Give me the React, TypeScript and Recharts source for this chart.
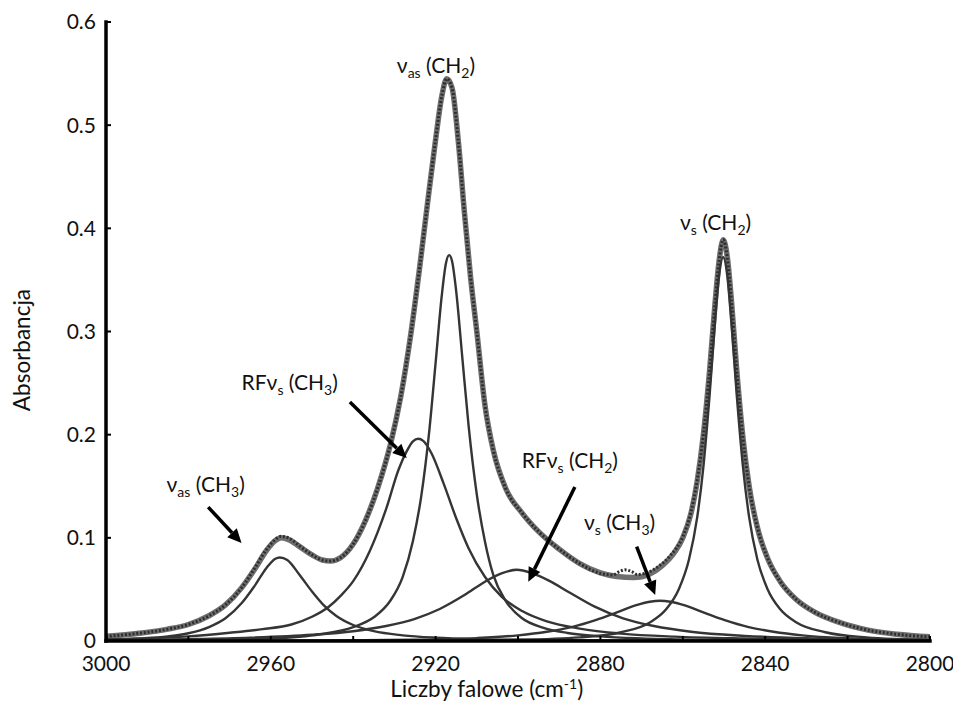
import React from 'react';
import { LineChart, Line, XAxis, YAxis, ReferenceLine, ReferenceDot } from 'recharts';

type P = [number, number];

const FONT = 'Lato, "Open Sans", sans-serif';

// axis ticks
const xTicks = [3000, 2980, 2960, 2940, 2920, 2900, 2880, 2860, 2840, 2820, 2800];
const xLabelTicks = [3000, 2960, 2920, 2880, 2840, 2800];
const yTicks = [0, 0.1, 0.2, 0.3, 0.4, 0.5, 0.6];
const yTickLabels = ['0', '0.1', '0.2', '0.3', '0.4', '0.5', '0.6'];

// fitted total spectrum (thick grey)
const fitTotal: P[] = [
  [3000, 0.0045], [2992, 0.0075], [2985, 0.0115], [2980, 0.016], [2975, 0.0245], [2971, 0.035],
  [2967, 0.052], [2964, 0.069], [2961, 0.088], [2959, 0.097], [2957.5, 0.1], [2955.5, 0.098],
  [2953, 0.0915], [2950, 0.0835], [2947.5, 0.0785], [2945.5, 0.0775], [2943, 0.081], [2940, 0.094],
  [2937, 0.117], [2934, 0.149], [2931, 0.19], [2928.5, 0.236], [2926, 0.298], [2924, 0.358],
  [2922, 0.423], [2920, 0.486], [2918.5, 0.528], [2917.3, 0.545], [2916, 0.536], [2914.5, 0.485],
  [2913, 0.415], [2911.5, 0.352], [2910, 0.3], [2908, 0.228], [2906, 0.185], [2903, 0.148],
  [2899, 0.124], [2895, 0.106], [2890, 0.089], [2885, 0.075], [2880, 0.066], [2876, 0.0625],
  [2872, 0.0615], [2868, 0.065], [2865, 0.073], [2862, 0.086], [2860, 0.1], [2858, 0.124],
  [2856.5, 0.155], [2855, 0.2], [2853.5, 0.262], [2852.2, 0.326], [2851.2, 0.368], [2850.2, 0.389],
  [2849.2, 0.372], [2848.2, 0.33], [2846.9, 0.262], [2845.4, 0.197], [2843.9, 0.15], [2841.9, 0.11],
  [2839.4, 0.08], [2836.4, 0.058], [2832.4, 0.04], [2828, 0.028], [2822, 0.018], [2815, 0.0105],
  [2808, 0.0065], [2800, 0.004],
];

// measured spectrum (dotted)
const measured: P[] = [
  [3000, 0.0045], [2992, 0.0075], [2985, 0.0115], [2980, 0.016], [2975, 0.0245], [2971, 0.035],
  [2967, 0.052], [2964, 0.07], [2961, 0.089], [2959, 0.098], [2957.5, 0.1015], [2955.5, 0.0995],
  [2953, 0.092], [2950, 0.0835], [2947.5, 0.0785], [2945.5, 0.0775], [2943, 0.081], [2940, 0.094],
  [2937, 0.117], [2934, 0.149], [2931, 0.19], [2928.5, 0.236], [2926, 0.298], [2924, 0.358],
  [2922, 0.423], [2920, 0.486], [2918.5, 0.528], [2917.3, 0.545], [2916, 0.536], [2914.5, 0.485],
  [2913, 0.415], [2911.5, 0.352], [2910, 0.3], [2908, 0.228], [2906, 0.185], [2903, 0.148],
  [2899, 0.124], [2895, 0.106], [2890, 0.089], [2885, 0.075], [2880, 0.0655], [2877, 0.064],
  [2875.5, 0.067], [2874, 0.069], [2872.5, 0.0675], [2871, 0.0645], [2868.5, 0.0665], [2866, 0.072],
  [2863, 0.083], [2860, 0.101], [2858, 0.125], [2856.5, 0.156], [2855, 0.2], [2853.5, 0.262],
  [2852.2, 0.326], [2851.2, 0.368], [2850.2, 0.389], [2849.2, 0.372], [2848.2, 0.33], [2846.9, 0.262],
  [2845.4, 0.197], [2843.9, 0.15], [2841.9, 0.11], [2839.4, 0.08], [2836.4, 0.058], [2832.4, 0.04],
  [2828, 0.028], [2822, 0.018], [2815, 0.0105], [2808, 0.0065], [2800, 0.004],
];

// component bands
const vasCH3: P[] = [
  [3000, 0.0012], [2992, 0.0025], [2985, 0.0045], [2980, 0.0075], [2975, 0.0135], [2971, 0.022],
  [2967, 0.037], [2964, 0.053], [2961, 0.071], [2959, 0.0795], [2957.8, 0.081], [2956, 0.0785],
  [2953, 0.064], [2950, 0.048], [2947, 0.034], [2944, 0.024], [2940, 0.0155], [2935, 0.0095],
  [2928, 0.0055], [2920, 0.0032], [2910, 0.0018], [2890, 0.0008], [2860, 0.0003], [2800, 0.0001],
];

const rfCH3: P[] = [
  [3000, 0.0015], [2990, 0.0025], [2980, 0.0045], [2970, 0.008], [2962, 0.0115], [2955, 0.016],
  [2950, 0.0235], [2946, 0.033], [2943, 0.044], [2940, 0.058], [2936, 0.087], [2932, 0.128],
  [2929, 0.166], [2927, 0.184], [2925.5, 0.1935], [2924.2, 0.196], [2923, 0.194], [2921, 0.182],
  [2918, 0.152], [2915, 0.119], [2912, 0.09], [2908, 0.062], [2904, 0.043], [2899, 0.029],
  [2893, 0.019], [2885, 0.012], [2875, 0.0072], [2862, 0.0042], [2845, 0.0024], [2825, 0.0013],
  [2800, 0.0007],
];

const vasCH2: P[] = [
  [3000, 0.0004], [2980, 0.0009], [2960, 0.0025], [2948, 0.0065], [2940, 0.0135], [2935, 0.023],
  [2931, 0.039], [2928, 0.062], [2925.5, 0.097], [2923.5, 0.14], [2921.5, 0.205], [2920, 0.2695],
  [2918.5, 0.335], [2917.5, 0.366], [2916.7, 0.374], [2916, 0.368], [2915, 0.339], [2913.5, 0.274],
  [2912, 0.209], [2910, 0.142], [2908, 0.096], [2906, 0.064], [2903, 0.039], [2899, 0.022],
  [2894, 0.013], [2888, 0.0078], [2880, 0.0045], [2870, 0.0025], [2855, 0.0012], [2835, 0.0005],
  [2800, 0.0002],
];

const rfCH2: P[] = [
  [3000, 0.0008], [2980, 0.0018], [2965, 0.0032], [2950, 0.006], [2940, 0.0095], [2932, 0.0145],
  [2925, 0.0215], [2919, 0.031], [2913, 0.0445], [2908, 0.0575], [2904, 0.0655], [2900.3, 0.069],
  [2896.5, 0.0655], [2892.5, 0.0585], [2887.5, 0.047], [2881.5, 0.0335], [2874.5, 0.022], [2867, 0.0145],
  [2858, 0.009], [2845, 0.005], [2830, 0.0026], [2815, 0.0014], [2800, 0.0008],
];

const vsCH3: P[] = [
  [3000, 0.0001], [2950, 0.0004], [2925, 0.0012], [2910, 0.0028], [2900, 0.0055], [2893, 0.009],
  [2887, 0.0135], [2881, 0.0205], [2876, 0.0278], [2871.5, 0.0345], [2868, 0.0381], [2865.5, 0.039],
  [2863, 0.0381], [2859.5, 0.0345], [2855, 0.0278], [2850, 0.0205], [2844, 0.0135], [2838, 0.009],
  [2831, 0.0055], [2821, 0.0028], [2810, 0.0014], [2800, 0.0008],
];

const vsCH2: P[] = [
  [3000, 0.0001], [2920, 0.0004], [2900, 0.0012], [2885, 0.0035], [2875, 0.0085], [2868, 0.018],
  [2864, 0.031], [2861, 0.05], [2858.5, 0.079], [2856.5, 0.12], [2855, 0.169], [2853.5, 0.238],
  [2852.2, 0.308], [2851.2, 0.354], [2850.2, 0.372], [2849.2, 0.354], [2848.2, 0.308], [2846.9, 0.238],
  [2845.4, 0.169], [2843.9, 0.12], [2841.9, 0.079], [2839.4, 0.05], [2836.4, 0.031], [2832.4, 0.018],
  [2825.4, 0.0085], [2815.4, 0.0035], [2800, 0.001],
];

const components: P[][] = [vasCH3, rfCH3, vasCH2, rfCH2, vsCH3, vsCH2];

// band labels: prefix, subscript, group subscript, anchor (wavenumber, absorbance)
const annoPrefix = ['ν', 'ν', 'RFν', 'ν', 'RFν', 'ν'];
const annoSub = ['as', 's', 's', 'as', 's', 's'];
const annoGroupSub = ['2', '2', '3', '3', '2', '3'];
const annoX = [2929.4, 2860.7, 2967.1, 2985.3, 2899.1, 2884.0];
const annoY = [0.5504, 0.3983, 0.2432, 0.1447, 0.1673, 0.1076];

// arrows: from (wavenumber, absorbance) to (wavenumber, absorbance)
const arrowFrom: P[] = [[2975.2, 0.1298], [2940.8, 0.2316], [2886.2, 0.1492], [2871.2, 0.0914]];
const arrowTo: P[] = [[2967.1, 0.095], [2927.0, 0.1773], [2897.5, 0.0575], [2866.7, 0.0446]];

const toData = (arr: P[]) => arr.map(([x, y]) => ({ x, y }));

const BottomTick = (props: any) => {
  const { x, y, payload } = props;
  const v = payload.value;
  const show = xLabelTicks.includes(v);
  return (
    <g>
      <line x1={x} y1={y} x2={x} y2={y - 5} stroke="#000" strokeWidth={2} />
      {show && (
        <text x={x} y={y + 30} textAnchor="middle" fontFamily={FONT} fontSize={21} fill="#111">
          {v}
        </text>
      )}
    </g>
  );
};

const TopTick = (props: any) => {
  const { x, y } = props;
  return <line x1={x} y1={y} x2={x} y2={y + 6} stroke="#000" strokeWidth={2} />;
};

const LeftTick = (props: any) => {
  const { x, y, payload } = props;
  const idx = yTicks.indexOf(payload.value);
  return (
    <g>
      <line x1={x} y1={y} x2={x + 5} y2={y} stroke="#000" strokeWidth={2} />
      <text x={x - 10} y={y} dy="0.35em" textAnchor="end" fontFamily={FONT} fontSize={21} fill="#111">
        {yTickLabels[idx]}
      </text>
    </g>
  );
};

const XTitle = (props: any) => {
  const vb = props.viewBox || { x: 106, y: 641, width: 824 };
  return (
    <text x={vb.x + vb.width * 0.462} y={vb.y + 56} textAnchor="middle" fontFamily={FONT} fontSize={22.5} fill="#111">
      <tspan>Liczby falowe (cm</tspan>
      <tspan fontSize={14} dy={-8}>-1</tspan>
      <tspan dy={8}>)</tspan>
    </text>
  );
};

const YTitle = (props: any) => {
  const vb = props.viewBox || { x: 0, y: 22, width: 106, height: 619 };
  const cx = 30;
  const cy = vb.y + vb.height * 0.53;
  return (
    <text x={cx} y={cy} transform={`rotate(-90 ${cx} ${cy})`} textAnchor="middle" fontFamily={FONT} fontSize={22.5} fill="#111">
      Absorbancja
    </text>
  );
};

const Arrow = (props: any) => {
  const { x1, y1, x2, y2 } = props;
  const dx = x2 - x1;
  const dy = y2 - y1;
  const len = Math.hypot(dx, dy) || 1;
  const ux = dx / len;
  const uy = dy / len;
  const hl = 14;
  const hw = 6.5;
  const bx = x2 - ux * hl;
  const by = y2 - uy * hl;
  const px = -uy;
  const py = ux;
  return (
    <g>
      <line x1={x1} y1={y1} x2={bx} y2={by} stroke="#000" strokeWidth={3.5} />
      <polygon points={`${x2},${y2} ${bx + px * hw},${by + py * hw} ${bx - px * hw},${by - py * hw}`} fill="#000" />
    </g>
  );
};

const AnnoText = ({ cx, cy, i }: { cx: number; cy: number; i: number }) => (
  <text x={cx} y={cy} fontFamily={FONT} fontSize={21} fill="#111">
    <tspan>{annoPrefix[i]}</tspan>
    <tspan fontSize={14} dy={5}>{annoSub[i]}</tspan>
    <tspan dy={-5}>{'\u00A0(CH'}</tspan>
    <tspan fontSize={14} dy={5}>{annoGroupSub[i]}</tspan>
    <tspan dy={-5}>)</tspan>
  </text>
);

export default function App() {
  const axisLine = { stroke: '#000', strokeWidth: 3.5, strokeLinecap: 'square' as const };
  return (
    <div style={{ position: 'absolute', left: 0, top: 0, background: '#fff' }}>
      <LineChart width={953} height={704} margin={{ top: 22, right: 23, left: 0, bottom: 0 }}>
        <XAxis
          dataKey="x"
          type="number"
          domain={[2800, 3000]}
          reversed
          allowDataOverflow
          ticks={xTicks}
          interval={0}
          tickSize={0}
          tickMargin={0}
          tickLine={false}
          axisLine={axisLine}
          tick={<BottomTick />}
          height={63}
          label={<XTitle />}
        />
        <XAxis
          xAxisId="top"
          orientation="top"
          dataKey="x"
          type="number"
          domain={[2800, 3000]}
          reversed
          allowDataOverflow
          ticks={xTicks}
          interval={0}
          tickSize={0}
          tickMargin={0}
          tickLine={false}
          axisLine={axisLine}
          tick={<TopTick />}
          height={0}
        />
        <YAxis
          type="number"
          domain={[0, 0.6]}
          allowDataOverflow
          ticks={yTicks}
          interval={0}
          tickSize={0}
          tickMargin={0}
          tickLine={false}
          axisLine={axisLine}
          tick={<LeftTick />}
          width={106}
          label={<YTitle />}
        />
        <YAxis
          yAxisId="right"
          orientation="right"
          type="number"
          domain={[0, 0.6]}
          ticks={yTicks}
          tick={false}
          tickLine={false}
          axisLine={axisLine}
          width={0}
        />
        <Line
          data={toData(fitTotal)}
          dataKey="y"
          type="monotone"
          stroke="#6e6e6e"
          strokeWidth={5.5}
          dot={false}
          activeDot={false}
          isAnimationActive={false}
        />
        {components.map((c, i) => (
          <Line
            key={i}
            data={toData(c)}
            dataKey="y"
            type="monotone"
            stroke="#353535"
            strokeWidth={2.4}
            dot={false}
            activeDot={false}
            isAnimationActive={false}
          />
        ))}
        <Line
          data={toData(measured)}
          dataKey="y"
          type="monotone"
          stroke="#2e2e2e"
          strokeWidth={3}
          strokeDasharray="2 1.8"
          dot={false}
          activeDot={false}
          isAnimationActive={false}
        />
        {arrowFrom.map((f, i) => (
          <ReferenceLine
            key={'a' + i}
            segment={[{ x: f[0], y: f[1] }, { x: arrowTo[i][0], y: arrowTo[i][1] }]}
            ifOverflow="visible"
            shape={(p: any) => <Arrow {...p} />}
          />
        ))}
        {annoX.map((x, i) => (
          <ReferenceDot
            key={'t' + i}
            x={x}
            y={annoY[i]}
            r={0}
            ifOverflow="visible"
            shape={(p: any) => <AnnoText cx={p.cx} cy={p.cy} i={i} />}
          />
        ))}
      </LineChart>
    </div>
  );
}
